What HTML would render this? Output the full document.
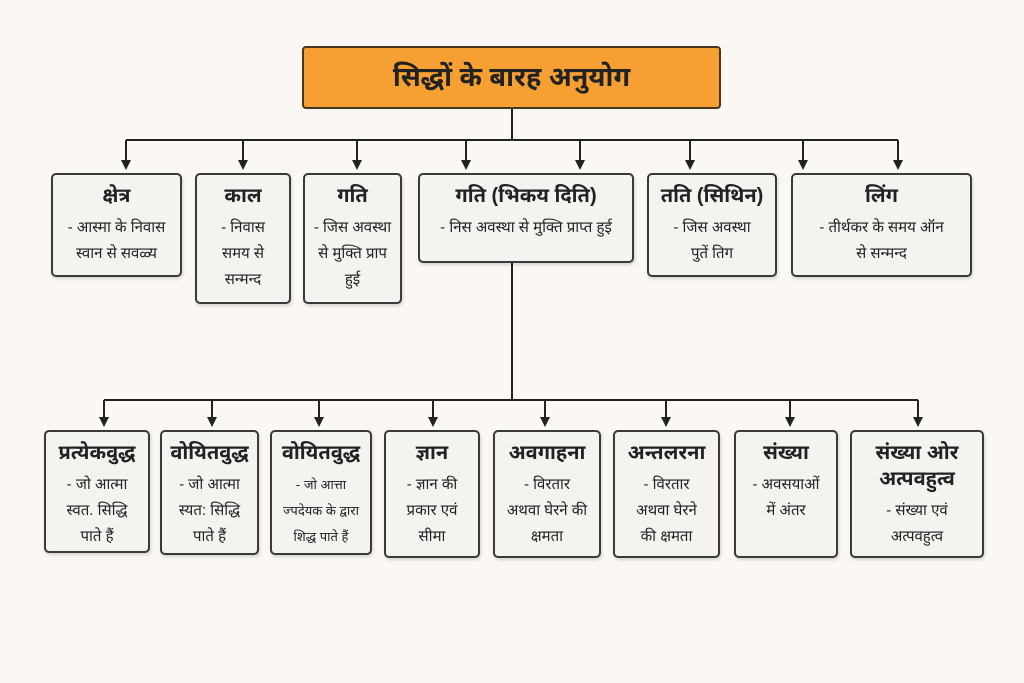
<!DOCTYPE html>
<html><head><meta charset="utf-8"><style>
body{margin:0;width:1024px;height:683px;background:#fbf8f3;position:relative;overflow:hidden;font-family:"Liberation Sans","Noto Sans Devanagari","Lohit Devanagari",sans-serif;color:#222}
.b{position:absolute;box-sizing:border-box;border:2px solid #3a3a3a;border-radius:5px;background:#f5f3f0;text-align:center;box-shadow:1px 2px 3px rgba(0,0,0,.15)}
.b h{display:block;font-weight:bold;font-size:20px;margin-top:8px;line-height:26px}
.b p{margin:6px 2px 0;font-size:15px;line-height:26px}
.t{position:absolute;left:302px;top:46px;width:419px;height:63px;box-sizing:border-box;border:2px solid #4a3520;border-radius:4px;background:#f6a034;text-align:center;font-size:27px;font-weight:bold;line-height:58px}
svg{position:absolute;left:0;top:0}
</style></head><body>
<svg width="1024" height="683">
<g stroke="#222" stroke-width="2" fill="none">
<path d="M512 109V140M126 140H898M512 263V400M104 400H918"/>
<path d="M126 140V163M243 140V163M357 140V163M466 140V163M580 140V163M690 140V163M803 140V163M898 140V163"/>
<path d="M104 400V420M212 400V420M319 400V420M433 400V420M545 400V420M666 400V420M790 400V420M918 400V420"/>
</g>
<g fill="#222">
<path d="M121 160h10l-5 10z"/><path d="M238 160h10l-5 10z"/><path d="M352 160h10l-5 10z"/><path d="M461 160h10l-5 10z"/><path d="M575 160h10l-5 10z"/><path d="M685 160h10l-5 10z"/><path d="M798 160h10l-5 10z"/><path d="M893 160h10l-5 10z"/>
<path d="M99 417h10l-5 10z"/><path d="M207 417h10l-5 10z"/><path d="M314 417h10l-5 10z"/><path d="M428 417h10l-5 10z"/><path d="M540 417h10l-5 10z"/><path d="M661 417h10l-5 10z"/><path d="M785 417h10l-5 10z"/><path d="M913 417h10l-5 10z"/>
</g></svg>
<div class="t">सिद्धों के बारह अनुयोग</div>
<div class="b" style="left:51px;top:173px;width:131px;height:104px"><h>क्षेत्र</h><p>- आस्मा के निवास<br>स्वान से सवळ्य</p></div>
<div class="b" style="left:195px;top:173px;width:96px;height:131px"><h>काल</h><p>- निवास<br>समय से<br>सन्मन्द</p></div>
<div class="b" style="left:303px;top:173px;width:99px;height:131px"><h>गति</h><p>- जिस अवस्था<br>से मुक्ति प्राप<br>हुई</p></div>
<div class="b" style="left:418px;top:173px;width:216px;height:90px"><h>गति (भिकय दिति)</h><p>- निस अवस्था से मुक्ति प्राप्त हुई</p></div>
<div class="b" style="left:647px;top:173px;width:130px;height:104px"><h>तति (सिथिन)</h><p>- जिस अवस्था<br>पुतें तिग</p></div>
<div class="b" style="left:791px;top:173px;width:181px;height:104px"><h>लिंग</h><p>- तीर्थकर के समय ऑन<br>से सन्मन्द</p></div>
<div class="b" style="left:44px;top:430px;width:106px;height:123px"><h>प्रत्येकवुद्ध</h><p>- जो आत्मा<br>स्वत. सिद्धि<br>पाते हैं</p></div>
<div class="b" style="left:160px;top:430px;width:99px;height:125px"><h>वोयितवुद्ध</h><p>- जो आत्मा<br>स्यत: सिद्धि<br>पाते हैं</p></div>
<div class="b" style="left:270px;top:430px;width:102px;height:125px"><h>वोयितवुद्ध</h><p style="font-size:13px">- जो आत्ता<br>ज्पदेयक के द्वारा<br>शिद्ध पाते हैं</p></div>
<div class="b" style="left:384px;top:430px;width:96px;height:128px"><h>ज्ञान</h><p>- ज्ञान की<br>प्रकार एवं<br>सीमा</p></div>
<div class="b" style="left:493px;top:430px;width:108px;height:128px"><h>अवगाहना</h><p>- विरतार<br>अथवा घेरने की<br>क्षमता</p></div>
<div class="b" style="left:613px;top:430px;width:107px;height:128px"><h>अन्तलरना</h><p>- विरतार<br>अथवा घेरने<br>की क्षमता</p></div>
<div class="b" style="left:734px;top:430px;width:104px;height:128px"><h>संख्या</h><p>- अवसयाओं<br>में अंतर</p></div>
<div class="b" style="left:850px;top:430px;width:134px;height:128px"><h>संख्या ओर<br>अत्पवहुत्व</h><p>- संख्या एवं<br>अत्पवहुत्व</p></div>
</body></html>
